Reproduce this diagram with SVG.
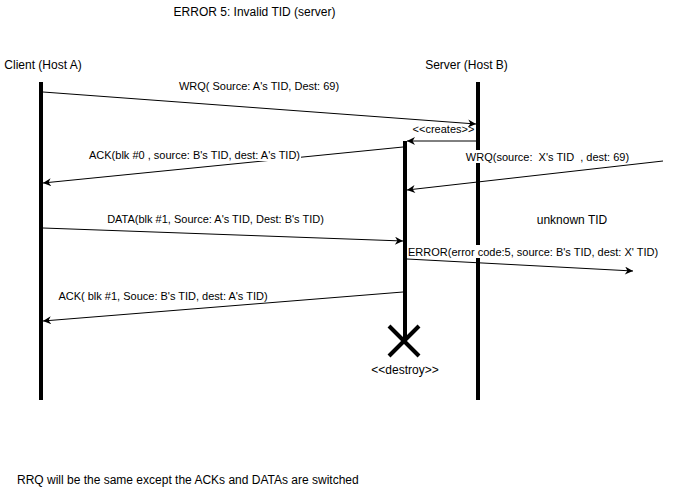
<svg xmlns="http://www.w3.org/2000/svg" width="673" height="492" viewBox="0 0 673 492">
<defs>
<style>
.t12{font-family:"Liberation Sans",Arial,sans-serif;font-size:12px;fill:#000}
.t11{font-family:"Liberation Sans",Arial,sans-serif;font-size:11px;fill:#000}
.life{stroke:#000;stroke-width:4;fill:none}
.msg{stroke:#000;stroke-width:1;fill:none;marker-end:url(#arr)}
.bg{fill:#fff}
</style>
<marker id="arr" viewBox="0 0 10 10" refX="10" refY="5" markerWidth="9" markerHeight="8" markerUnits="userSpaceOnUse" orient="auto">
<path d="M0,0 L10,5 L0,10 L3,5 Z" fill="#000"/>
</marker>
</defs>
<rect width="673" height="492" fill="#fff"/>
<text class="t12" x="254.5" y="16" text-anchor="middle">ERROR 5: Invalid TID (server)</text>
<g id="client">
<text class="t12" x="43" y="69" text-anchor="middle">Client (Host A)</text>
<line class="life" x1="41" y1="82" x2="41" y2="400"/>
</g>
<g id="server">
<text class="t12" x="466.5" y="69" text-anchor="middle">Server (Host B)</text>
<line class="life" x1="478" y1="82" x2="478" y2="400"/>
</g>
<g id="server-thread">
<line class="life" x1="405" y1="141" x2="405" y2="341"/>
<line class="life" x1="389" y1="326" x2="419" y2="356"/>
<line class="life" x1="419" y1="326" x2="389" y2="356"/>
<text class="t12" x="405" y="374" text-anchor="middle">&lt;&lt;destroy&gt;&gt;</text>
</g>
<g id="connectors">
<line class="msg" x1="43" y1="92" x2="476" y2="124"/>
<line class="msg" x1="476" y1="141" x2="407" y2="141"/>
<line class="msg" x1="403" y1="147" x2="43" y2="183"/>
<line class="msg" x1="663" y1="161" x2="407" y2="190"/>
<line class="msg" x1="43" y1="228" x2="403" y2="241"/>
<line class="msg" x1="407" y1="259" x2="633" y2="271"/>
<line class="msg" x1="403" y1="292" x2="43" y2="321"/>
</g>
<g id="labels">
<text class="t11" x="259" y="90" text-anchor="middle">WRQ( Source: A's TID, Dest: 69)</text>
<text class="t11" x="443.5" y="133" text-anchor="middle">&lt;&lt;creates&gt;&gt;</text>
<rect class="bg" x="88" y="148" width="213" height="13"/>
<text class="t11" x="194.5" y="159" text-anchor="middle">ACK(blk #0 , source: B's TID, dest: A's TID)</text>
<rect class="bg" x="464" y="150" width="168" height="13"/>
<text class="t11" x="547.5" y="161" text-anchor="middle" xml:space="preserve">WRQ(source:  X's TID  , dest: 69)</text>
<text class="t12" x="572" y="224" text-anchor="middle">unknown TID</text>
<text class="t11" x="215.5" y="223" text-anchor="middle">DATA(blk #1, Source: A's TID, Dest: B's TID)</text>
<rect class="bg" x="408" y="245" width="253" height="13"/>
<text class="t11" x="408" y="256">ERROR(error code:5, source: B's TID, dest: X' TID)</text>
<text class="t11" x="163" y="300" text-anchor="middle">ACK( blk #1, Souce: B's TID, dest: A's TID)</text>
</g>
<text class="t12" x="17" y="484">RRQ will be the same except the ACKs and DATAs are switched</text>
</svg>
